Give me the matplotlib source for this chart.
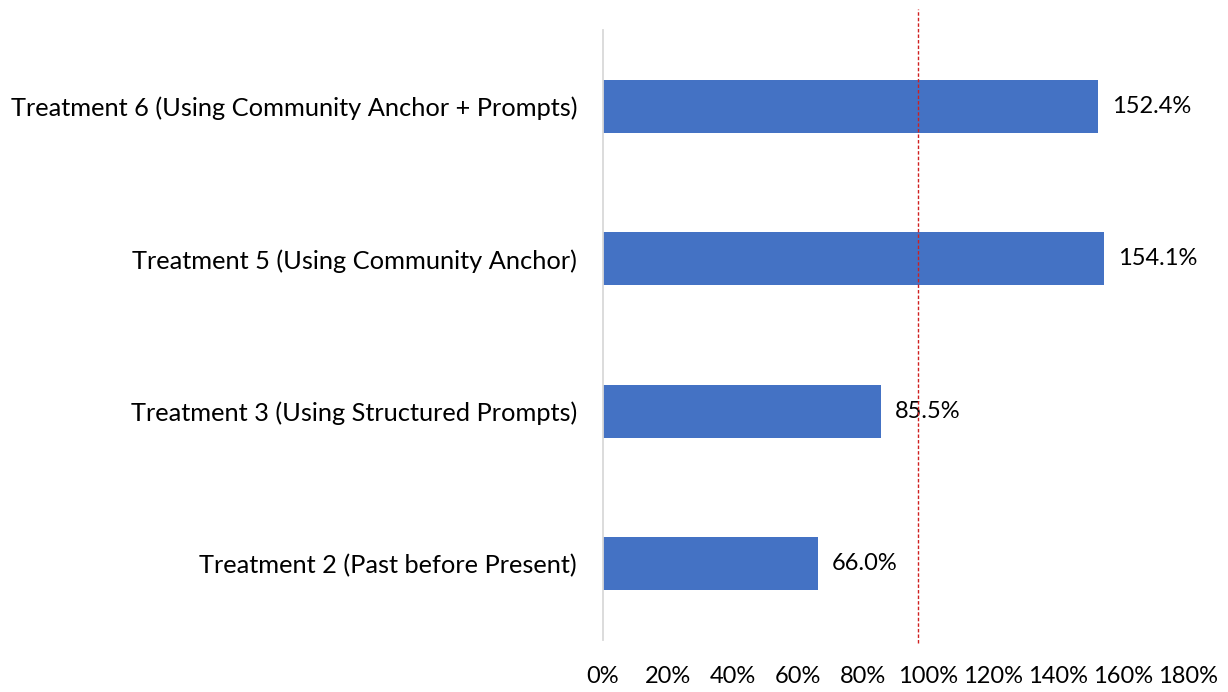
import matplotlib
matplotlib.use("Agg")
import matplotlib.pyplot as plt
from matplotlib.ticker import FuncFormatter

plt.rcParams['font.family'] = ['Lato', 'DejaVu Sans']

# data, bottom to top
categories = [
    "Treatment 2 (Past before Present)",
    "Treatment 3 (Using Structured Prompts)",
    "Treatment 5 (Using Community Anchor)",
    "Treatment 6 (Using Community Anchor + Prompts)",
]
values = [66.0, 85.5, 154.1, 152.4]
ticks = [0, 20, 40, 60, 80, 100, 120, 140, 160, 180]
ref_line = 97.0

fig = plt.figure(figsize=(12.28, 6.92), dpi=100)
ax = fig.add_axes([603 / 1228, 52 / 692, 585 / 1228, 610 / 692])

y = list(range(len(categories)))
bars = ax.barh(y, values, height=0.35, color="#4472C4")
for yi, v in zip(y, values):
    ax.text(v + 4.3, yi, f"{v:.1f}%", va="center", ha="left", fontsize=17, color="#000000")

ax.set_xlim(0, 180)
ax.set_ylim(-0.5, len(categories) - 0.5)
ax.set_yticks(y)
ax.set_yticklabels(categories, fontsize=18.3)
ax.set_xticks(ticks)
ax.xaxis.set_major_formatter(FuncFormatter(lambda v, p: f"{v:.0f}%"))
ax.tick_params(axis="x", labelsize=17, length=0, pad=19)
ax.tick_params(axis="y", length=0, pad=18.7)

for s in ["top", "right", "bottom"]:
    ax.spines[s].set_visible(False)
ax.spines["left"].set_color("#D9D9D9")
ax.spines["left"].set_linewidth(1.3)

# reference line, drawn past the plot area
ax.plot([ref_line, ref_line], [-0.52, 3.64], color="#D02020", lw=1, ls=(0, (2.5, 1.5)),
        clip_on=False, zorder=3)

fig.savefig("out.png", dpi=100, facecolor="white")
